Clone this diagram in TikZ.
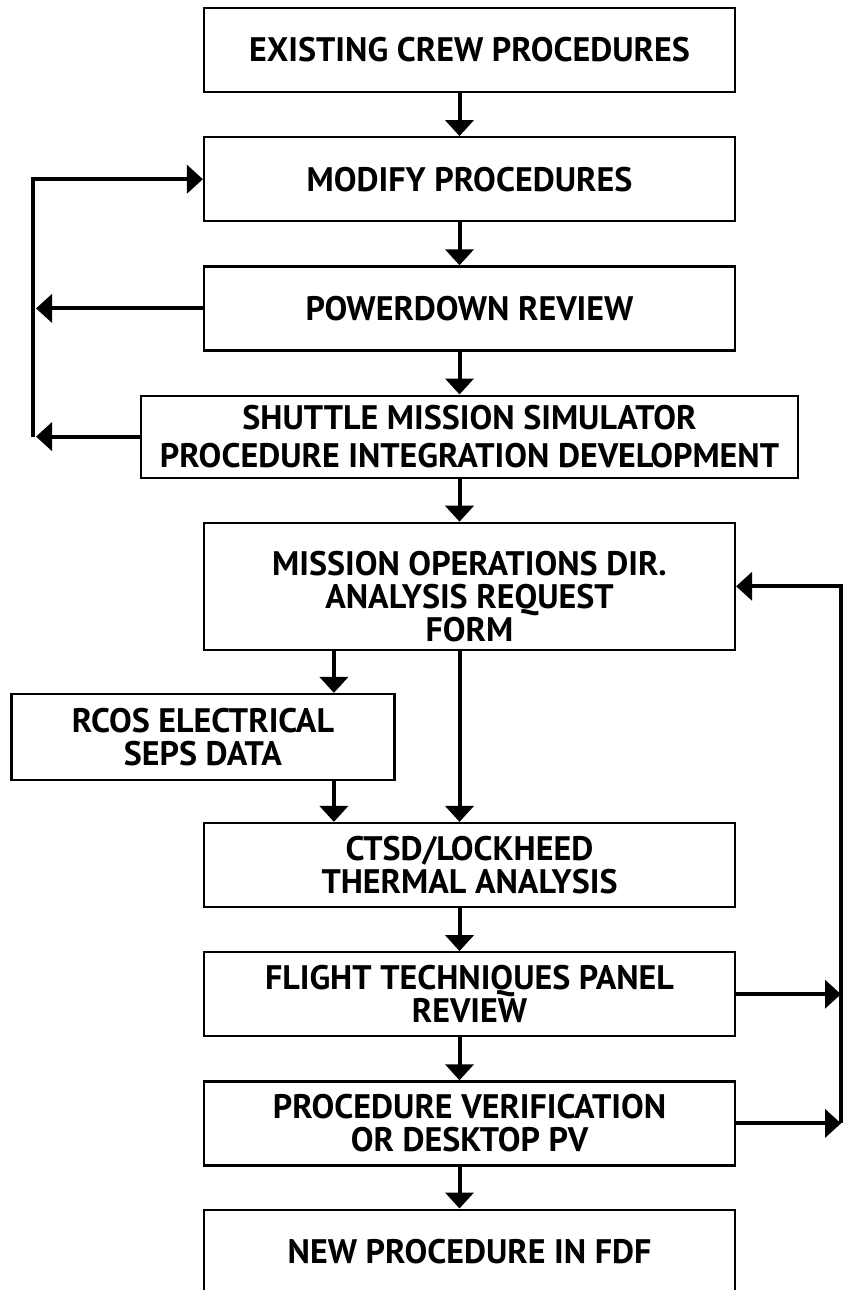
\documentclass[tikz,border=0pt]{standalone}
\usepackage{fontspec}
\setmainfont{PT Sans}
\usetikzlibrary{arrows.meta, positioning}
\tikzset{
  stepbox/.style={rectangle, draw=black, line width=2.2pt,
                   minimum width=531pt, minimum height=84pt, inner sep=2pt,
                   font=\fontsize{34}{33}\selectfont\bfseries, align=center},
}
\begin{document}
\begin{tikzpicture}[x=1pt, y=-1pt,
        arr/.style={-{Triangle[length=16pt, width=28pt]}, line width=4pt},
        node distance=43pt
      ]
        \clip (0,0) rectangle (844,1290);
        \node[stepbox] (s1) at (469.5,50) {EXISTING CREW PROCEDURES};
        \node[stepbox, below=of s1] (s2) {MODIFY PROCEDURES};
        \node[stepbox, below=of s2] (s3) {POWERDOWN REVIEW};
        \node[stepbox, below=of s3, minimum width=657pt, minimum height=82pt] (s4)
          {SHUTTLE MISSION SIMULATOR\\[5pt] PROCEDURE INTEGRATION DEVELOPMENT};
        \node[stepbox, below=of s4, minimum height=127pt] (s5)
          {\rule{0pt}{44pt}MISSION OPERATIONS DIR.\\ ANALYSIS REQUEST\\ FORM};
        \node[stepbox, below=42pt of s5.south west, minimum width=383pt, minimum height=86pt] (rcos)
          {RCOS ELECTRICAL\\ SEPS DATA};
        \node[stepbox, below=171pt of s5] (s7) {CTSD/LOCKHEED\\ THERMAL ANALYSIS};
        \node[stepbox, below=of s7] (s8) {FLIGHT TECHNIQUES PANEL\\ REVIEW};
        \node[stepbox, below=of s8] (s9) {PROCEDURE VERIFICATION\\ OR DESKTOP PV};
        \node[stepbox, below=42pt of s9] (s10) {NEW PROCEDURE IN FDF};
        % arrow columns and loop lines
        \coordinate (mx) at ([xshift=-10pt]s1.center);
        \coordinate (dx) at ([xshift=131pt]rcos.center);
        \coordinate (lx) at (33,0);
        \coordinate (rx) at (841,0);
        \draw[arr] (mx |- s1.south) -- (mx |- s2.north);
        \draw[arr] (mx |- s2.south) -- (mx |- s3.north);
        \draw[arr] (mx |- s3.south) -- (mx |- s4.north);
        \draw[arr] (mx |- s4.south) -- (mx |- s5.north);
        \draw[arr] (mx |- s5.south) -- (mx |- s7.north);
        \draw[arr] (dx |- s5.south) -- (dx |- rcos.north);
        \draw[arr] (dx |- rcos.south) -- (dx |- s7.north);
        \draw[arr] (mx |- s7.south) -- (mx |- s8.north);
        \draw[arr] (mx |- s8.south) -- (mx |- s9.north);
        \draw[arr] (mx |- s9.south) -- (mx |- s10.north);
        % left feedback
        \draw[arr] (lx |- s4.west) -- (lx |- s2.west) -- (s2.west);
        \draw[arr, shorten >=3pt] (s3.west) -- (lx |- s3.west);
        \draw[arr, shorten >=3pt] (s4.west) -- (lx |- s4.west);
        % right feedback
        \draw[arr] (rx |- s9.east) -- (rx |- s5.east) -- (s5.east);
        \draw[arr] (s8.east) -- (rx |- s8.east);
        \draw[arr] (s9.east) -- (rx |- s9.east);
      \end{tikzpicture}
\end{document}
